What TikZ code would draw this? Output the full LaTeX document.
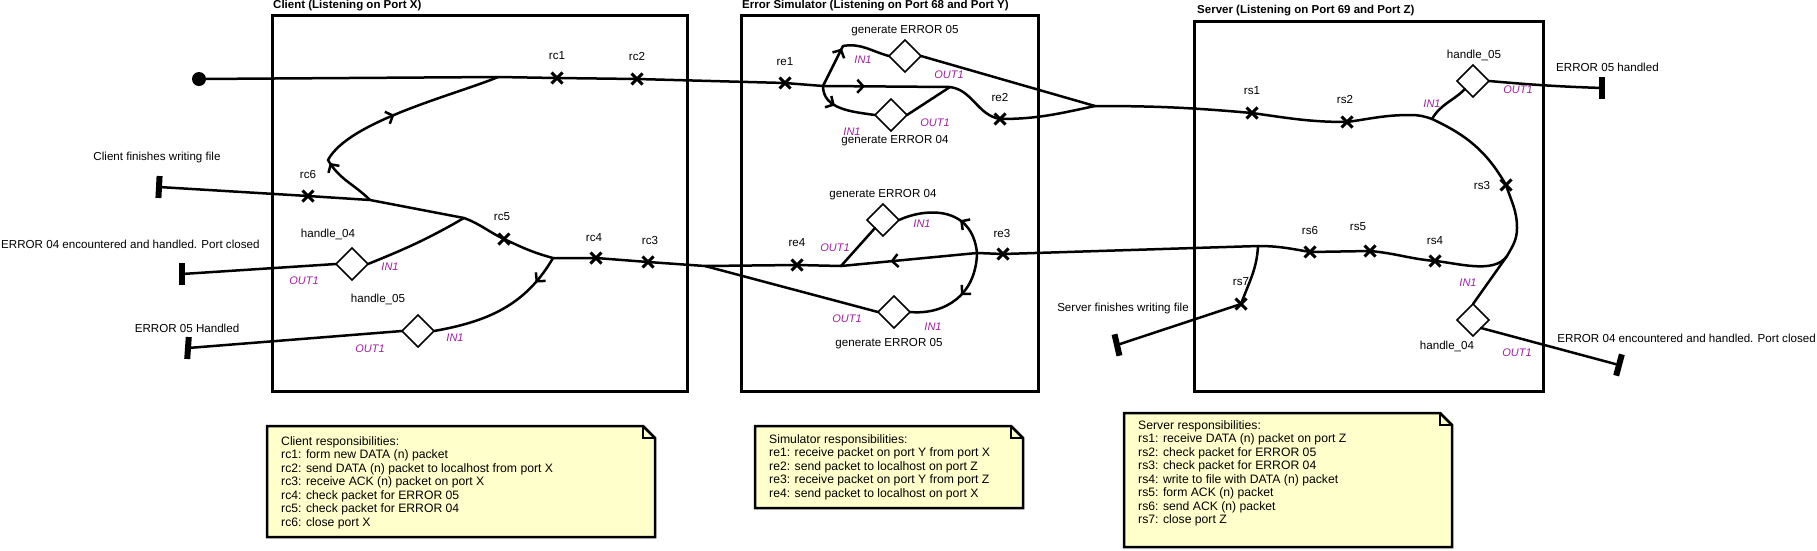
\documentclass[tikz,border=0pt]{standalone}
\usepackage{fontspec}
\setmainfont{Liberation Sans}
\usetikzlibrary{shapes.geometric,shapes.misc,arrows.meta,decorations.markings}
\definecolor{portc}{RGB}{160,32,160}
\definecolor{notey}{RGB}{255,255,204}
\tikzset{
  conn/.style={line width=2.5pt, line cap=round, line join=round},
  xmark/.style={cross out, draw, line width=3pt, minimum size=11pt, inner sep=0pt, outer sep=0pt},
  gate/.style={diamond, draw, fill=white, line width=1.6pt, minimum width=32pt, minimum height=32pt, inner sep=0pt, outer sep=0pt},
  lbl/.style={font=\fontsize{11.6}{13.4}\selectfont, inner sep=0pt},
  plbl/.style={font=\itshape\fontsize{11}{13}\selectfont, text=portc, inner sep=0pt},
  ttl/.style={font=\bfseries\fontsize{11.5}{13.4}\selectfont, anchor=west, inner sep=0pt},
  endbar/.style={fill=black, minimum width=6pt, minimum height=22pt, inner sep=0pt, outer sep=0pt},
  pane/.style={draw, line width=3pt},
  notebox/.style={draw, fill=notey, line width=2.5pt, line join=miter},
  notetxt/.style={font=\fontsize{12.2}{13.5}\selectfont, align=left, anchor=north west, inner sep=0pt},
  arrat/.style={postaction={decorate, decoration={markings, mark=at position #1 with {\arrow{Straight Barb[length=6pt,width=13pt]}}}}},
}
\begin{document}
\begin{tikzpicture}[x=1pt,y=1pt]
\useasboundingbox (0,0) rectangle (1817,-550);

% panes
\draw[pane] (272,-15) rectangle (687,-391);
\draw[pane] (741,-15) rectangle (1038,-391);
\draw[pane] (1194,-21) rectangle (1543,-391);
\node[ttl] (tc) at (273,-6) {Client (Listening on Port X)};
\node[ttl] (te) at (742,-6) {Error Simulator (Listening on Port 68 and Port Y)};
\node[ttl] (ts) at (1197,-11) {Server (Listening on Port 69 and Port Z)};

% points
\node[circle, fill=black, minimum size=14pt, inner sep=0pt] (start) at (199,-79) {};
\coordinate (cj1) at (498,-77);
\node[xmark] (rc1) at (557,-78) {};
\node[xmark] (rc2) at (637,-79) {};
\node[xmark] (re1) at (785,-83) {};
\coordinate (eb1) at (823,-86);
\coordinate (ea1) at (843,-46);
\coordinate (ejn1) at (950,-87);
\node[xmark] (re2) at (1000,-119) {};
\coordinate (smerge) at (1095,-106);
\node[gate] (g05a) at (905,-56) {};
\node[gate] (g04a) at (891,-115) {};
\node[xmark] (rs1) at (1252,-113) {};
\node[xmark] (rs2) at (1347,-122) {};
\coordinate (stop) at (1410,-115);
\coordinate (sb1) at (1432,-119);
\node[gate] (h05s) at (1473,-81) {};
\node[endbar] (sbar1) at (1602,-88) {};
\node[xmark] (rs3) at (1506,-185) {};
\coordinate (sright) at (1517,-228);
\coordinate (sb2) at (1507,-256);
\node[gate] (h04s) at (1473,-320) {};
\node[endbar, rotate=-15] (sbar2) at (1619,-365) {};
\node[xmark] (rs4) at (1435,-261) {};
\node[xmark] (rs5) at (1370,-251) {};
\node[xmark] (rs6) at (1310,-252) {};
\coordinate (sb3) at (1258,-246);
\node[xmark] (rs7) at (1241,-304) {};
\node[endbar, rotate=13] (sbar3) at (1117,-345) {};
\node[xmark] (re3) at (1003,-254) {};
\coordinate (eb2) at (977,-253);
\node[gate] (g04b) at (883,-220) {};
\node[gate] (g05b) at (894,-312) {};
\coordinate (ejn3) at (841,-266);
\node[xmark] (re4) at (797,-265) {};
\coordinate (ejn4) at (705,-266);
\node[xmark] (rc3) at (648,-262) {};
\node[xmark] (rc4) at (596,-258) {};
\coordinate (cj3) at (553,-258);
\node[xmark] (rc5) at (504,-239) {};
\coordinate (cj2) at (464,-218);
\coordinate (cj4) at (370,-200);
\coordinate (ca1) at (328,-160);
\node[xmark] (rc6) at (308,-196) {};
\node[endbar, rotate=-3] (cbar1) at (159,-187) {};
\node[gate] (h04c) at (352,-264) {};
\node[endbar] (cbar2) at (182,-274) {};
\node[gate] (h05c) at (418,-331) {};
\node[endbar, rotate=-4] (cbar3) at (188,-348) {};

% connectors: request path
\draw[conn] (start.center) -- (cj1) -- (rc1.center) -- (rc2.center) -- (re1.center) -- (eb1);
\draw[conn, arrat=42pt] (eb1) -- (ea1) to[out=10,in=165] (g05a.west);
\draw[conn] (g05a.east) -- (smerge);
\draw[conn, arrat=42pt] (eb1) -- (ejn1) to[out=-8,in=170] (re2.center) to[out=0,in=192] (smerge);
\draw[conn, arrat=24pt] (eb1) to[out=-90,in=172] (g04a.west);
\draw[conn] (g04a.east) -- (ejn1);

% server
\draw[conn] (smerge) to[out=0,in=175] (rs1.center) to[out=-8,in=180] (rs2.center)
  to[out=8,in=180] (stop) to[out=0,in=160] (sb1) to[out=-25,in=120] (rs3.center)
  to[out=-72,in=90] (sright) to[out=-90,in=60] (sb2) to[out=-125,in=-5,looseness=0.8] (rs4.center)
  to[out=175,in=-5] (rs5.center) -- (rs6.center) to[out=170,in=0] (sb3) -- (re3.center) -- (eb2);
\draw[conn] (sb1) to[out=60,in=-135] (h05s.south west);
\draw[conn] (h05s.east) to[out=-5,in=178] (sbar1);
\draw[conn] (sb2) -- (h04s.north);
\draw[conn] (h04s.south east) -- (sbar2);
\draw[conn] (sb3) to[out=-93,in=70] (rs7.center) -- (sbar3);

% simulator reply path
\draw[conn, arrat=38pt] (eb2) .. controls (972,-205) and (925,-208) .. (g04b.east);
\draw[conn, arrat=87pt] (eb2) -- (ejn3);
\draw[conn, arrat=46pt] (eb2) .. controls (976,-295) and (945,-315) .. (g05b.east);
\draw[conn] (g04b.south west) -- (ejn3);
\draw[conn] (g05b.west) -- (ejn4);
\draw[conn] (ejn3) -- (re4.center) -- (ejn4) -- (rc3.center) -- (rc4.center) -- (cj3);

% client reply path
\draw[conn] (cj3) to[out=165,in=-25] (rc5.center) to[out=155,in=-20] (cj2) -- (cj4) -- (rc6.center) -- (cbar1);
\draw[conn, arrat=55pt, arrat=140pt] (cj4) to[out=135,in=-60] (ca1) to[out=62,in=-157,looseness=0.6] (cj1);
\draw[conn] (cj2) to[out=-150,in=22] (h04c.east);
\draw[conn] (h04c.west) -- (cbar2);
\draw[conn, arrat=30pt] (cj3) to[out=-120,in=10] (h05c.east);
\draw[conn] (h05c.west) -- (cbar3);

% labels client
\node[lbl] (lrc1) at (557,-56) {rc1};
\node[lbl] (lrc2) at (637,-57) {rc2};
\node[lbl] (lrc6) at (308,-174) {rc6};
\node[lbl] (lrc5) at (502,-217) {rc5};
\node[lbl] (lrc4) at (594,-238) {rc4};
\node[lbl] (lrc3) at (650,-240) {rc3};
\node[lbl] (lh04c) at (328,-234) {handle\_04};
\node[plbl] (ph04ci) at (390,-267) {IN1};
\node[plbl] (ph04co) at (304,-281) {OUT1};
\node[lbl] (lh05c) at (378,-299) {handle\_05};
\node[plbl] (ph05ci) at (455,-338) {IN1};
\node[plbl] (ph05co) at (370,-349) {OUT1};
\node[lbl] (lcfin) at (157,-157) {Client finishes writing file};
\node[lbl, anchor=west] (lc04) at (1,-244) {ERROR 04 encountered and handled. Port closed};
\node[lbl] (lc05) at (187,-328) {ERROR 05 Handled};
% labels simulator
\node[lbl] (lre1) at (785,-62) {re1};
\node[lbl] (lg05a) at (905,-31) {generate ERROR 05};
\node[plbl] (pg05ai) at (863,-60) {IN1};
\node[plbl] (pg05ao) at (949,-75) {OUT1};
\node[lbl] (lre2) at (1000,-98) {re2};
\node[plbl] (pg04ai) at (852,-132) {IN1};
\node[plbl] (pg04ao) at (935,-123) {OUT1};
\node[lbl] (lg04a) at (895,-141) {generate ERROR 04};
\node[lbl] (lg04b) at (883,-195) {generate ERROR 04};
\node[plbl] (pg04bi) at (922,-224) {IN1};
\node[plbl] (pg04bo) at (835,-248) {OUT1};
\node[lbl] (lre3) at (1002,-233) {re3};
\node[lbl] (lre4) at (797,-243) {re4};
\node[plbl] (pg05bo) at (847,-319) {OUT1};
\node[plbl] (pg05bi) at (933,-327) {IN1};
\node[lbl] (lg05b) at (889,-344) {generate ERROR 05};
% labels server
\node[lbl] (lrs1) at (1252,-91) {rs1};
\node[lbl] (lrs2) at (1345,-100) {rs2};
\node[lbl] (lh05s) at (1474,-55) {handle\_05};
\node[plbl] (ph05si) at (1432,-104) {IN1};
\node[plbl] (ph05so) at (1518,-90) {OUT1};
\node[lbl, anchor=west] (ls05) at (1556,-67) {ERROR 05 handled};
\node[lbl] (lrs3) at (1482,-185) {rs3};
\node[lbl] (lrs4) at (1435,-241) {rs4};
\node[plbl] (ph04si) at (1468,-283) {IN1};
\node[plbl] (ph04so) at (1517,-353) {OUT1};
\node[lbl] (lh04s) at (1447,-346) {handle\_04};
\node[lbl, anchor=east] (ls04) at (1816,-338) {ERROR 04 encountered and handled. Port closed};
\node[lbl] (lrs5) at (1358,-227) {rs5};
\node[lbl] (lrs6) at (1310,-230) {rs6};
\node[lbl] (lrs7) at (1241,-282) {rs7};
\node[lbl] (lsfin) at (1123,-308) {Server finishes writing file};

% notes
\draw[notebox] (267,-426) -- (643,-426) -- (655,-438) -- (655,-537) -- (267,-537) -- cycle;
\draw[notebox, fill=none] (643,-426) -- (643,-438) -- (655,-438);
\node[notetxt] (cnote) at (281,-436) {Client responsibilities:\\rc1: form new DATA (n) packet\\rc2: send DATA (n) packet to localhost from port X\\rc3: receive ACK (n) packet on port X\\rc4: check packet for ERROR 05\\rc5: check packet for ERROR 04\\rc6: close port X};

\draw[notebox] (755,-426) -- (1011,-426) -- (1023,-438) -- (1023,-508) -- (755,-508) -- cycle;
\draw[notebox, fill=none] (1011,-426) -- (1011,-438) -- (1023,-438);
\node[notetxt] (enote) at (769,-434) {Simulator responsibilities:\\re1: receive packet on port Y from port X\\re2: send packet to localhost on port Z\\re3: receive packet on port Y from port Z\\re4: send packet to localhost on port X};

\draw[notebox] (1124,-413) -- (1440,-413) -- (1452,-425) -- (1452,-547) -- (1124,-547) -- cycle;
\draw[notebox, fill=none] (1440,-413) -- (1440,-425) -- (1452,-425);
\node[notetxt] (snote) at (1138,-420) {Server responsibilities:\\rs1: receive DATA (n) packet on port Z\\rs2: check packet for ERROR 05\\rs3: check packet for ERROR 04\\rs4: write to file with DATA (n) packet\\rs5: form ACK (n) packet\\rs6: send ACK (n) packet\\rs7: close port Z};
\end{tikzpicture}
\end{document}
